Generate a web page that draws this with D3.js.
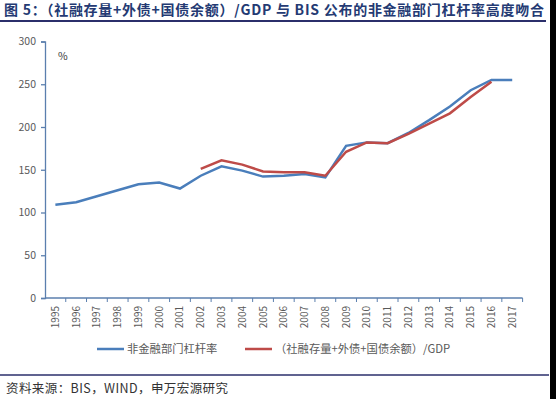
<!DOCTYPE html>
<html>
<head>
<meta charset="utf-8">
<script src="https://cdn.jsdelivr.net/npm/d3@7"></script>
<style>
  body { margin: 0; background: #fff; }
  text { font-family: "Noto Sans CJK SC", "Open Sans", sans-serif; }
</style>
</head>
<body>
<div id="chart"></div>
<script>
var width = 556,
    height = 399;

// years on the category axis
var years = ["1995","1996","1997","1998","1999","2000","2001","2002","2003","2004","2005","2006",
             "2007","2008","2009","2010","2011","2012","2013","2014","2015","2016","2017"];

// BIS non-financial sector leverage (%)
var bisValues = [109, 112, 119, 126, 133, 135, 128, 143, 154, 149, 142, 143,
                 145, 141, 178, 182, 181, 193, 208, 224, 243, 255, 255];

// (TSF stock + external debt + treasury) / GDP (%), from 2002 to 2016
var tsfYears = ["2002","2003","2004","2005","2006","2007","2008","2009","2010","2011","2012","2013","2014","2015","2016"];
var tsfValues = [151, 161, 156, 148, 147, 147, 143, 171, 182, 181, 192, 204, 216, 235, 253];

var yTicks = [0, 50, 100, 150, 200, 250, 300];

var seriesNames = ["非金融部门杠杆率", "（社融存量+外债+国债余额）/GDP"];
var seriesColors = ["#4A7EBB", "#BE4B48"];

var svg = d3.select("#chart")
    .append("svg")
    .attr("width", width)
    .attr("height", height);

// title
svg.append("text")
    .attr("x", 4)
    .attr("y", 15)
    .attr("fill", "#243a73")
    .attr("font-size", 14)
    .attr("font-weight", "bold")
    .attr("textLength", 540)
    .attr("lengthAdjust", "spacing")
    .text("图 5：（社融存量+外债+国债余额）/GDP 与 BIS 公布的非金融部门杠杆率高度吻合");

svg.append("line")
    .attr("x1", 0).attr("x2", 546)
    .attr("y1", 21).attr("y2", 21)
    .attr("stroke", "#2b2f6b")
    .attr("stroke-width", 2);

var x = d3.scaleBand()
    .domain(years)
    .range([45, 522.6]);

var y = d3.scaleLinear()
    .domain([0, 300])
    .range([298, 41.5]);

var axisColor = "#5b7fae";

// y axis
var yAxis = svg.append("g")
    .attr("transform", "translate(45,0)")
    .call(d3.axisLeft(y).tickValues(yTicks).tickSize(4).tickPadding(5));
yAxis.selectAll("path, line").attr("stroke", axisColor).attr("stroke-width", 1.3);
yAxis.selectAll("text").attr("fill", "#595959").attr("font-size", 10.5)
    .attr("font-family", "Open Sans, sans-serif");

// x axis with ticks on band boundaries
var xAxis = svg.append("g")
    .attr("transform", "translate(0,298)");
xAxis.append("line")
    .attr("x1", 45).attr("x2", 522.6)
    .attr("stroke", axisColor)
    .attr("stroke-width", 1.3);
xAxis.selectAll(".tk")
    .data(years)
    .enter().append("line")
    .attr("class", "tk")
    .attr("x1", function (d) { return x(d) + x.bandwidth(); })
    .attr("x2", function (d) { return x(d) + x.bandwidth(); })
    .attr("y1", 0).attr("y2", 4)
    .attr("stroke", axisColor);
xAxis.selectAll(".lbl")
    .data(years)
    .enter().append("text")
    .attr("class", "lbl")
    .attr("transform", function (d) {
        return "translate(" + (x(d) + x.bandwidth() / 2 + 3.5) + ",8) rotate(-90)";
    })
    .attr("text-anchor", "end")
    .attr("fill", "#595959")
    .attr("font-size", 10)
    .attr("font-family", "Open Sans, sans-serif")
    .text(function (d) { return d; });

svg.append("text")
    .attr("x", 58).attr("y", 60)
    .attr("fill", "#333")
    .attr("font-size", 10.5)
    .attr("font-family", "Open Sans, sans-serif")
    .text("%");

var line = d3.line()
    .x(function (d) { return x(d[0]) + x.bandwidth() / 2; })
    .y(function (d) { return y(d[1]); });

svg.append("path")
    .datum(d3.zip(years, bisValues))
    .attr("d", line)
    .attr("fill", "none")
    .attr("stroke", seriesColors[0])
    .attr("stroke-width", 2.5);

svg.append("path")
    .datum(d3.zip(tsfYears, tsfValues))
    .attr("d", line)
    .attr("fill", "none")
    .attr("stroke", seriesColors[1])
    .attr("stroke-width", 2.5);

// legend
var legendX = [97, 245];
var legend = svg.selectAll(".legend")
    .data(seriesNames)
    .enter().append("g")
    .attr("class", "legend")
    .attr("transform", function (d, i) { return "translate(" + legendX[i] + ",349)"; });
legend.append("line")
    .attr("x1", 0).attr("x2", 27)
    .attr("stroke", function (d, i) { return seriesColors[i]; })
    .attr("stroke-width", 2.5);
legend.append("text")
    .attr("x", 30).attr("y", 4)
    .attr("fill", "#595959")
    .attr("font-size", 11.3)
    .text(function (d) { return d; });

// footer
svg.append("line")
    .attr("x1", 0).attr("x2", 549)
    .attr("y1", 375).attr("y2", 375)
    .attr("stroke", "#2b2f6b")
    .attr("stroke-width", 1.5);

svg.append("text")
    .attr("x", 6).attr("y", 393)
    .attr("fill", "#333")
    .attr("font-size", 12.5)
    .attr("textLength", 222)
    .attr("lengthAdjust", "spacing")
    .text("资料来源：BIS，WIND，申万宏源研究");

// dark strip on the right edge of the scan
svg.append("rect")
    .attr("x", 550).attr("y", 0)
    .attr("width", 6).attr("height", height)
    .attr("fill", "#000");
</script>
</body>
</html>
